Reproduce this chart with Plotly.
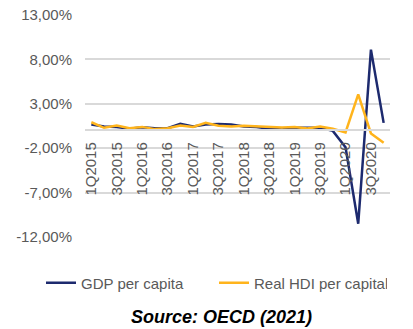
import plotly.graph_objects as go

# Quarterly categories 1Q2015 .. 4Q2020
quarters = [f"{q}Q{y}" for y in range(2015, 2021) for q in (1, 2, 3, 4)]

# Quarter-on-quarter growth, %
gdp_per_capita = [0.68, 0.45, 0.40, 0.20, 0.35, 0.25, 0.25, 0.75,
                  0.45, 0.68, 0.72, 0.68, 0.45, 0.40, 0.18, 0.10,
                  0.30, 0.30, 0.30, -0.05, -1.90, -10.50, 9.10, 0.85]
real_hdi_per_capita = [0.92, 0.30, 0.55, 0.26, 0.40, 0.15, 0.25, 0.55,
                       0.40, 0.86, 0.53, 0.45, 0.53, 0.45, 0.33, 0.33,
                       0.40, 0.22, 0.45, 0.18, -0.23, 4.06, -0.34, -1.40]

# Axis ticks
y_ticks = [-12, -7, -2, 3, 8, 13]
y_tick_text = [f"{v:.2f}%".replace(".", ",") for v in y_ticks]
x_tick_labels = [q for q in quarters if q[0] in "13"]

y_min, y_max = -12, 13
W, H = 413, 329
M_L, M_R, M_T, M_B = 85, 23, 15, 92
plot_w = W - M_L - M_R
plot_h = H - M_T - M_B


def px_to_paper_x(px):
    return (px - M_L) / plot_w


def px_to_paper_y(py):
    return (H - M_B - py) / plot_h


fig = go.Figure()
fig.add_trace(go.Scatter(x=quarters, y=gdp_per_capita, mode="lines",
                         name="GDP per capita",
                         line=dict(color="#1D2A6E", width=2.5)))
fig.add_trace(go.Scatter(x=quarters, y=real_hdi_per_capita, mode="lines",
                         name="Real HDI per capital",
                         line=dict(color="#FFB41C", width=2.5)))

fig.update_layout(
    width=W, height=H,
    margin=dict(l=M_L, r=M_R, t=M_T, b=M_B, autoexpand=False),
    paper_bgcolor="white", plot_bgcolor="white",
    font=dict(family="Liberation Sans, Arial, sans-serif", size=15, color="#595959"),
    showlegend=True,
    legend=dict(orientation="h",
                x=px_to_paper_x(41), xanchor="left", xref="paper",
                y=px_to_paper_y(283), yanchor="middle", yref="paper",
                font=dict(size=15, color="#595959"),
                entrywidth=128, tracegroupgap=0,
                bgcolor="rgba(0,0,0,0)", borderwidth=0),
    annotations=[dict(text="<b><i>Source: OECD (2021)</i></b>",
                      x=px_to_paper_x(W / 2 + 15), xref="paper", xanchor="center",
                      y=px_to_paper_y(317), yref="paper", yanchor="middle",
                      showarrow=False,
                      font=dict(family="Liberation Sans, Arial, sans-serif",
                                size=18, color="#000000"))],
)

fig.update_yaxes(range=[y_min, y_max], tickmode="array",
                 tickvals=y_ticks, ticktext=y_tick_text,
                 showgrid=True, gridcolor="#D9D9D9", gridwidth=1.5,
                 zeroline=False, showline=False, ticks="",
                 ticklabelstandoff=12, automargin=False)

# category axis crossing the value axis at zero
fig.update_xaxes(type="category", categoryorder="array", categoryarray=quarters,
                 range=[-0.5, len(quarters) - 0.5],
                 tickmode="array", tickvals=x_tick_labels, ticktext=x_tick_labels,
                 tickangle=-90, showgrid=False, zeroline=False,
                 showline=True, linecolor="#D9D9D9", linewidth=1.5,
                 anchor="free", position=(0 - y_min) / (y_max - y_min),
                 ticks="", ticklabelstandoff=5, automargin=False)

fig.write_html("out.html")
